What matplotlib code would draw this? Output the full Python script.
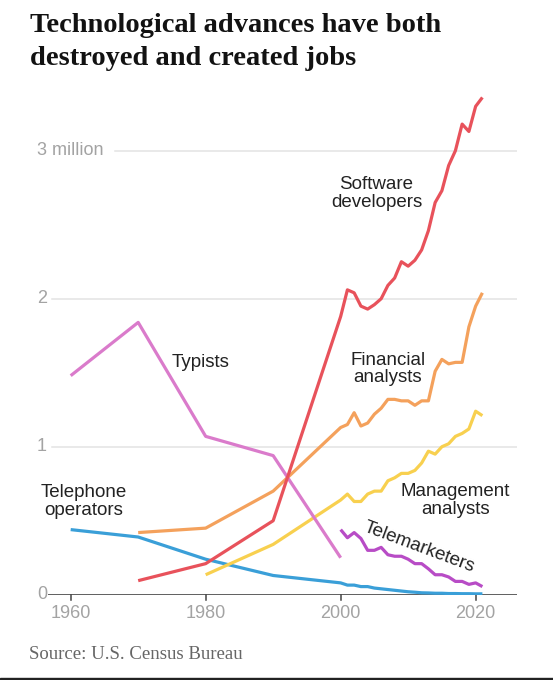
import matplotlib.pyplot as plt
from matplotlib.patches import Rectangle

# values (millions of workers)
sw_years = [1970, 1980, 1990] + list(range(2000, 2022))
sw_jobs = [0.095, 0.21, 0.50, 1.88, 2.06, 2.04, 1.95, 1.93, 1.96, 2.00, 2.09, 2.14, 2.25,
           2.22, 2.26, 2.33, 2.46, 2.65, 2.73, 2.90, 3.00, 3.18, 3.13, 3.30, 3.36]

fin_years = [1970, 1980, 1990] + list(range(2000, 2022))
fin_jobs = [0.42, 0.45, 0.70, 1.13, 1.15, 1.23, 1.14, 1.16, 1.22, 1.26, 1.32, 1.32, 1.31,
            1.31, 1.28, 1.31, 1.31, 1.51, 1.59, 1.56, 1.57, 1.57, 1.81, 1.95, 2.04]

mgmt_years = [1980, 1990] + list(range(2000, 2022))
mgmt_jobs = [0.135, 0.34, 0.64, 0.68, 0.63, 0.63, 0.68, 0.70, 0.70, 0.77, 0.79, 0.82, 0.82,
             0.84, 0.89, 0.97, 0.95, 1.00, 1.02, 1.07, 1.09, 1.12, 1.24, 1.21]

typ_years = [1960, 1970, 1980, 1990, 2000]
typ_jobs = [1.48, 1.84, 1.07, 0.94, 0.25]

tel_years = [1960, 1970, 1980, 1990] + list(range(2000, 2022))
tel_jobs = [0.44, 0.39, 0.24, 0.13, 0.08, 0.065, 0.065, 0.055, 0.055, 0.045, 0.04, 0.035,
            0.03, 0.025, 0.02, 0.017, 0.013, 0.012, 0.01, 0.01, 0.008, 0.008, 0.007,
            0.007, 0.006, 0.006]

tm_years = list(range(2000, 2022))
tm_jobs = [0.44, 0.385, 0.42, 0.38, 0.30, 0.30, 0.32, 0.27, 0.26, 0.26, 0.24, 0.21, 0.21,
           0.175, 0.135, 0.135, 0.12, 0.09, 0.09, 0.07, 0.08, 0.055]

x_ticks = [1960, 1980, 2000, 2020]
y_ticks = [0, 1, 2, 3]
y_labels = ['0', '1', '2', '3 million']

sans = 'Liberation Sans'
serif = 'Liberation Serif'

fig = plt.figure(figsize=(5.53, 6.80), dpi=100)
ax = fig.add_axes([0.0873, 0.1254, 0.848, 0.740])
ax.set_xlim(1956.68, 2026.16)
ax.set_ylim(0, 3.4)
ax.axis('off')

# gridlines (3 million line starts after its label)
for yv in y_ticks[1:]:
    start = 0.143 if yv == 3 else 0.008
    ax.axhline(yv, xmin=start, xmax=1, color='#e3e3e3', lw=1.1, zorder=0)
ax.axhline(0, color='#444444', lw=1.2, zorder=1)

# y labels
for yv, lab in zip(y_ticks, y_labels):
    ax.text(-0.024, yv, lab, transform=ax.get_yaxis_transform(), ha='left', va='center',
            fontsize=13, color='#a3a3a3', family=sans)

# x ticks + labels
for xv in x_ticks:
    ax.plot([xv, xv], [0, -0.035], color='#444444', lw=1.1, clip_on=False)
    ax.text(xv, -0.125, str(xv), ha='center', va='center', fontsize=13,
            color='#a3a3a3', family=sans)

lw = 2.3
ax.plot(tel_years, tel_jobs, color='#3a9fd8', lw=lw, zorder=2, solid_capstyle='butt')
ax.plot(mgmt_years, mgmt_jobs, color='#f8d04f', lw=lw, zorder=3, solid_capstyle='butt')
ax.plot(fin_years, fin_jobs, color='#f4a15c', lw=lw, zorder=4, solid_capstyle='butt')
ax.plot(typ_years, typ_jobs, color='#da7bcb', lw=lw, zorder=5, solid_capstyle='butt')
ax.plot(tm_years, tm_jobs, color='#b84cc6', lw=lw, zorder=6, solid_capstyle='butt')
ax.plot(sw_years, sw_jobs, color='#e8525b', lw=lw, zorder=7, solid_capstyle='butt')

# direct labels
lab_kw = dict(ha='center', va='center', fontsize=13.5, color='#222222', family=sans,
              linespacing=1.05, zorder=10)
ax.text(2005.3, 2.71, 'Software\ndevelopers', **lab_kw)
ax.text(1979.3, 1.57, 'Typists', **lab_kw)
ax.text(2007.0, 1.525, 'Financial\nanalysts', **lab_kw)
ax.text(1961.9, 0.63, 'Telephone\noperators', **lab_kw)
ax.text(2017.0, 0.635, 'Management\nanalysts', **lab_kw)
ax.text(2011.6, 0.32, 'Telemarketers', rotation=-20.5, rotation_mode='anchor', **lab_kw)

title_kw = dict(ha='left', va='baseline', fontsize=20.5, fontweight='bold', family=serif,
                color='#121212')
fig.text(30 / 553, 1 - 32 / 680, 'Technological advances have both', **title_kw)
fig.text(30 / 553, 1 - 65 / 680, 'destroyed and created jobs', **title_kw)
fig.text(29 / 553, 1 - 659 / 680, 'Source: U.S. Census Bureau', ha='left', va='baseline',
         fontsize=13.5, family=serif, color='#666666')

fig.patches.append(Rectangle((0, 0), 1, 2.5 / 680, transform=fig.transFigure,
                             color='#222222', zorder=0))

fig.savefig('out.png', dpi=100)
